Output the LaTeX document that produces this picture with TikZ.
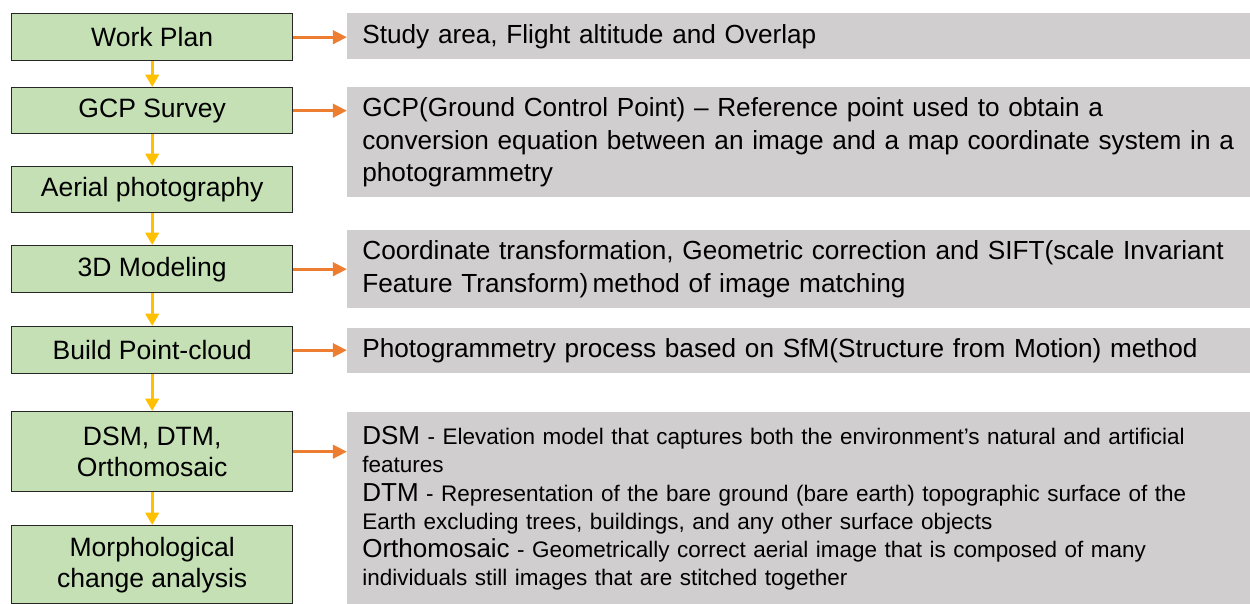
\documentclass[tikz,border=0pt]{standalone}
\usepackage{fontspec}
\setmainfont{Liberation Sans}
\usetikzlibrary{arrows.meta}

\definecolor{stagegreen}{HTML}{C5E0B4}
\definecolor{notegray}{HTML}{D0CECE}
\definecolor{flowyellow}{HTML}{FFC000}
\definecolor{linkorange}{HTML}{ED7D31}

\newcommand{\bigterm}[1]{{\fontsize{14.8}{16}\selectfont #1}}

\begin{document}
\begin{tikzpicture}[x = 0.02cm, y = -0.02cm,
		stage/.style = {draw = black!85, line width = 0.8pt, fill = stagegreen, anchor = north west,
			minimum width = 5.62cm, align = center, inner sep = 0pt,
			font = \fontsize{15.1}{17.6}\selectfont},
		note/.style = {fill = notegray, anchor = north west, minimum width = 18.02cm,
			text width = 17.8cm, inner xsep = 0.3cm, inner ysep = 0pt, align = left,
			font = \fontsize{14.9}{18.7}\selectfont},
		flow/.style = {draw = flowyellow, line width = 1.8pt, -{Triangle[length = 7pt, width = 7.5pt]}},
		link/.style = {draw = linkorange, line width = 1.9pt, -{Triangle[length = 8pt, width = 7.5pt]}}]

	\useasboundingbox (0,0) rectangle (1250,604);

	% stages
	\node[stage, minimum height = 0.94cm] (work) at (11,13) {Work Plan};
	\node[stage, minimum height = 0.92cm] (gcp) at (11,87) {GCP Survey};
	\node[stage, minimum height = 0.92cm] (aerial) at (11,166) {Aerial photography};
	\node[stage, minimum height = 0.94cm] (model) at (11,245) {3D Modeling};
	\node[stage, minimum height = 0.94cm] (cloud) at (11,326) {Build Point-cloud};
	\node[stage, minimum height = 1.6cm] (dsm) at (11,411) {DSM, DTM,\\Orthomosaic};
	\node[stage, minimum height = 1.56cm] (morph) at (11,525) {Morphological\\change analysis};

	% notes
	\node[note, minimum height = 0.92cm] (study) at (347,13) {Study area, Flight altitude and Overlap};
	\node[note, minimum height = 2.2cm] (gcpnote) at (347,87) {GCP(Ground Control Point) -- Reference point used to obtain a\\
		conversion equation between an image and a map coordinate system in a\\
		photogrammetry};
	\node[note, minimum height = 1.56cm] (modelnote) at (347,230) {Coordinate transformation, Geometric correction and SIFT(scale Invariant\\
		Feature Transform)\,method of image matching};
	\node[note, minimum height = 0.9cm] (cloudnote) at (347,328) {Photogrammetry process based on SfM(Structure from Motion) method};
	\node[note, minimum height = 3.84cm, font = \fontsize{12.8}{16}\selectfont] (dsmnote) at (347,412) {\bigterm{DSM} - Elevation model that captures both the environment's natural and artificial\\
		features\\
		\bigterm{DTM} - Representation of the bare ground (bare earth) topographic surface of the\\
		Earth excluding trees, buildings, and any other surface objects\\
		\bigterm{Orthomosaic} - Geometrically correct aerial image that is composed of many\\
		individuals still images that are stitched together};

	% flow
	\foreach \a/\b in {work/gcp, gcp/aerial, aerial/model, model/cloud, cloud/dsm, dsm/morph}
	{
		\draw[flow] (\a) -- (\b);
	}

	% links
	\foreach \a/\b in {work/study, gcp/gcpnote, model/modelnote, cloud/cloudnote, dsm/dsmnote}
	{
		\draw[link] (\a.east) -- (\a.east -| \b.west);
	}
\end{tikzpicture}
\end{document}
